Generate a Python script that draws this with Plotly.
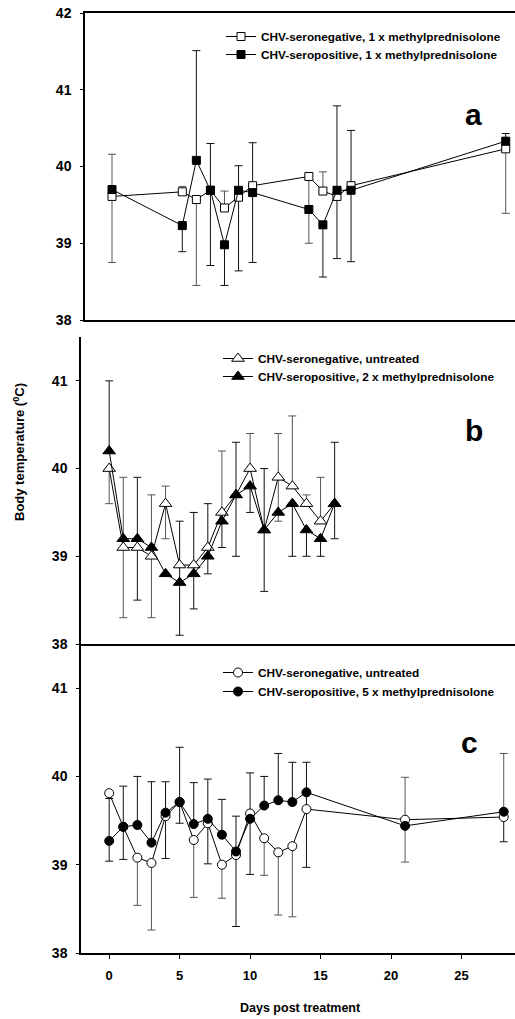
import plotly.graph_objects as go

W, H = 515, 1019

# ---------------- Data ----------------
# Panel a
days_a = [0, 5, 6, 7, 8, 9, 10, 14, 15, 16, 17, 28]
neg_a = [39.61, 39.67, 39.57, 39.69, 39.46, 39.60, 39.75, 39.87, 39.68, 39.61, 39.75, 40.23]
pos_a = [39.70, 39.23, 40.08, 39.69, 38.98, 39.69, 39.66, 39.44, 39.24, 39.69, 39.69, 40.33]
neg_a_up = [0.55, 0.07, 0, 0, 0.22, 0, 0, 0, 0.25, 0, 0, 0]
neg_a_dn = [0.86, 0, 1.12, 0, 0, 0, 0, 0.87, 0, 0, 0, 0.84]
pos_a_up = [0, 0, 1.43, 0.61, 0, 0.32, 0.65, 0, 0, 1.10, 0.78, 0.10]
pos_a_dn = [0, 0.34, 0, 0.98, 0.53, 1.05, 0.91, 0, 0.68, 0.89, 0.93, 0]

# Panel b
days_b = [0, 1, 2, 3, 4, 5, 6, 7, 8, 9, 10, 11, 12, 13, 14, 15, 16]
neg_b = [40.0, 39.1, 39.1, 39.0, 39.6, 38.9, 38.9, 39.1, 39.5, 39.7, 40.0, 39.3, 39.9, 39.8, 39.6, 39.4, 39.6]
pos_b = [40.2, 39.2, 39.2, 39.1, 38.8, 38.7, 38.8, 39.0, 39.4, 39.7, 39.8, 39.3, 39.5, 39.6, 39.3, 39.2, 39.6]
neg_b_up = [0, 0.8, 0, 0.7, 0.2, 0, 0, 0, 0.7, 0, 0.4, 0, 0.5, 0.8, 0.1, 0.5, 0]
neg_b_dn = [0.4, 0.8, 0, 0.7, 0.4, 0, 0, 0, 0, 0, 0, 0, 0.5, 0, 0, 0, 0]
pos_b_up = [0.8, 0, 0.7, 0, 0, 0.7, 0.7, 0.6, 0, 0.6, 0, 0.7, 0, 0, 0, 0, 0.7]
pos_b_dn = [0, 0, 0.7, 0, 0, 0.6, 0.4, 0.2, 0.3, 0.7, 0.3, 0.7, 0, 0.6, 0.3, 0.2, 0.4]

# Panel c
days_c = [0, 1, 2, 3, 4, 5, 6, 7, 8, 9, 10, 11, 12, 13, 14, 21, 28]
neg_c = [39.81, 39.43, 39.08, 39.02, 39.55, 39.71, 39.28, 39.47, 39.00, 39.11, 39.58, 39.30, 39.14, 39.21, 39.63, 39.51, 39.54]
pos_c = [39.27, 39.43, 39.45, 39.25, 39.59, 39.71, 39.46, 39.52, 39.34, 39.15, 39.52, 39.67, 39.73, 39.71, 39.82, 39.44, 39.60]
neg_c_up = [0, 0, 0, 0, 0, 0, 0, 0, 0, 0, 0, 0, 0, 0, 0, 0.48, 0.72]
neg_c_dn = [0, 0, 0.54, 0.76, 0, 0, 0.65, 0, 0.38, 0, 0, 0.42, 0.71, 0.80, 0, 0.48, 0]
pos_c_up = [0.48, 0.46, 0.55, 0.69, 0.35, 0.62, 0.47, 0.45, 0.40, 0.40, 0.52, 0.33, 0.53, 0.45, 0.34, 0, 0]
pos_c_dn = [0.23, 0.37, 0, 0, 0.52, 0.24, 0, 0.51, 0, 0.85, 0.63, 0, 0, 0, 0.85, 0, 0.34]

x_ticks = [0, 5, 10, 15, 20, 25]

FONT = "Liberation Sans, Arial, sans-serif"

fig = go.Figure()


def err_trace(days, vals, up, dn, xa, ya, color):
    xs, ys, u, d = [], [], [], []
    for x, v, a, b in zip(days, vals, up, dn):
        if a > 0 or b > 0:
            xs.append(x); ys.append(v); u.append(a); d.append(b)
    fig.add_trace(go.Scatter(
        x=xs, y=ys, mode="markers", marker=dict(size=1, opacity=0),
        error_y=dict(type="data", symmetric=False, array=u, arrayminus=d,
                     color=color, thickness=1, width=4),
        xaxis=xa, yaxis=ya, showlegend=False, hoverinfo="skip"))


def data_trace(days, vals, name, symbol, size, fill, xa, ya, legend):
    fig.add_trace(go.Scatter(
        x=days, y=vals, mode="lines+markers", name=name,
        line=dict(color="black", width=1),
        marker=dict(symbol=symbol, size=size, color=fill,
                    line=dict(color="black", width=1)),
        xaxis=xa, yaxis=ya, legend=legend))


panels = [
    ("x", "y", "legend", "legend2", days_a, neg_a, pos_a, neg_a_up, neg_a_dn, pos_a_up, pos_a_dn,
     "square", 8, "CHV-seronegative, 1 x methylprednisolone", "CHV-seropositive, 1 x methylprednisolone"),
    ("x2", "y2", "legend3", "legend4", days_b, neg_b, pos_b, neg_b_up, neg_b_dn, pos_b_up, pos_b_dn,
     "triangle-up", 11, "CHV-seronegative, untreated", "CHV-seropositive, 2 x methylprednisolone"),
    ("x3", "y3", "legend5", "legend6", days_c, neg_c, pos_c, neg_c_up, neg_c_dn, pos_c_up, pos_c_dn,
     "circle", 9, "CHV-seronegative, untreated", "CHV-seropositive, 5 x methylprednisolone"),
]

for xa, ya, lg1, lg2, d, n, p, nu, nd, pu, pd_, sym, sz, nname, pname in panels:
    err_trace(d, n, nu, nd, xa, ya, "#555555")
    err_trace(d, p, pu, pd_, xa, ya, "#111111")
    data_trace(d, n, nname, sym, sz, "white", xa, ya, lg1)
    data_trace(d, p, pname, sym, sz, "black", xa, ya, lg2)


def px_x(px):
    return px / W


def px_y(py):
    return 1 - py / H


tickfont = dict(family=FONT, size=14, color="black", weight="bold")
common_y = dict(showgrid=False, zeroline=False, showline=True, linecolor="black",
                linewidth=1.5, ticks="outside", ticklen=3, tickcolor="black",
                tickfont=tickfont, dtick=1, automargin=False, ticklabelstandoff=6)
common_x = dict(showgrid=False, zeroline=False, showline=True, linecolor="black",
                linewidth=1.5, automargin=False)

fig.update_layout(
    width=W, height=H, margin=dict(l=0, r=0, t=0, b=0),
    paper_bgcolor="white", plot_bgcolor="white", showlegend=True,
    xaxis=dict(domain=[px_x(85), 1], range=[-1.92, 28.66], showticklabels=False,
               ticks="", mirror=True, anchor="y", **common_x),
    yaxis=dict(domain=[px_y(320), px_y(13)], range=[38, 42], anchor="x",
               tickvals=[38, 39, 40, 41, 42], **common_y),
    xaxis2=dict(domain=[px_x(81), 1], range=[-2, 28.8], showticklabels=False,
                ticks="", anchor="y2", **common_x),
    yaxis2=dict(domain=[px_y(644), px_y(337)], range=[38, 41.5], anchor="x2",
                tickvals=[38, 39, 40, 41], **common_y),
    xaxis3=dict(domain=[px_x(81), 1], range=[-2, 28.8], tickvals=x_ticks,
                ticks="outside", ticklen=4, tickcolor="black",
                tickfont=dict(family=FONT, size=13, color="black", weight="bold"),
                anchor="y3", ticklabelstandoff=6, **common_x),
    yaxis3=dict(domain=[px_y(953), px_y(644)], range=[38, 41.5], anchor="x3",
                tickvals=[38, 39, 40, 41], **common_y),
)

legfont = dict(family=FONT, size=11.8, color="black", weight="bold")
# one legend per row: (key, left px, row centre px)
for key, lx, cy in [("legend", 221, 37), ("legend2", 221, 55),
                    ("legend3", 218, 359), ("legend4", 218, 377),
                    ("legend5", 218, 673), ("legend6", 218, 692)]:
    fig.update_layout({key: dict(x=px_x(lx), y=px_y(cy - 15), xanchor="left", yanchor="top",
                                 bgcolor="rgba(0,0,0,0)", borderwidth=0, font=legfont,
                                 tracegroupgap=0, itemclick=False)})

letter_font = dict(family=FONT, size=30, color="black", weight="bold")
for txt, lx, ly in [("a", 473, 114), ("b", 474, 430), ("c", 469, 742)]:
    fig.add_annotation(text=txt, x=px_x(lx), y=px_y(ly), xref="paper", yref="paper",
                       showarrow=False, font=letter_font, xanchor="center", yanchor="middle")

fig.add_annotation(text="Body temperature (<sup>0</sup>C)", x=px_x(19), y=px_y(452),
                   xref="paper", yref="paper", showarrow=False, textangle=-90,
                   font=dict(family=FONT, size=13, color="black", weight="bold"),
                   xanchor="center", yanchor="middle")
fig.add_annotation(text="Days post treatment", x=px_x(300), y=px_y(1008),
                   xref="paper", yref="paper", showarrow=False,
                   font=dict(family=FONT, size=12.5, color="black", weight="bold"),
                   xanchor="center", yanchor="middle")

fig.write_html("out.html")
